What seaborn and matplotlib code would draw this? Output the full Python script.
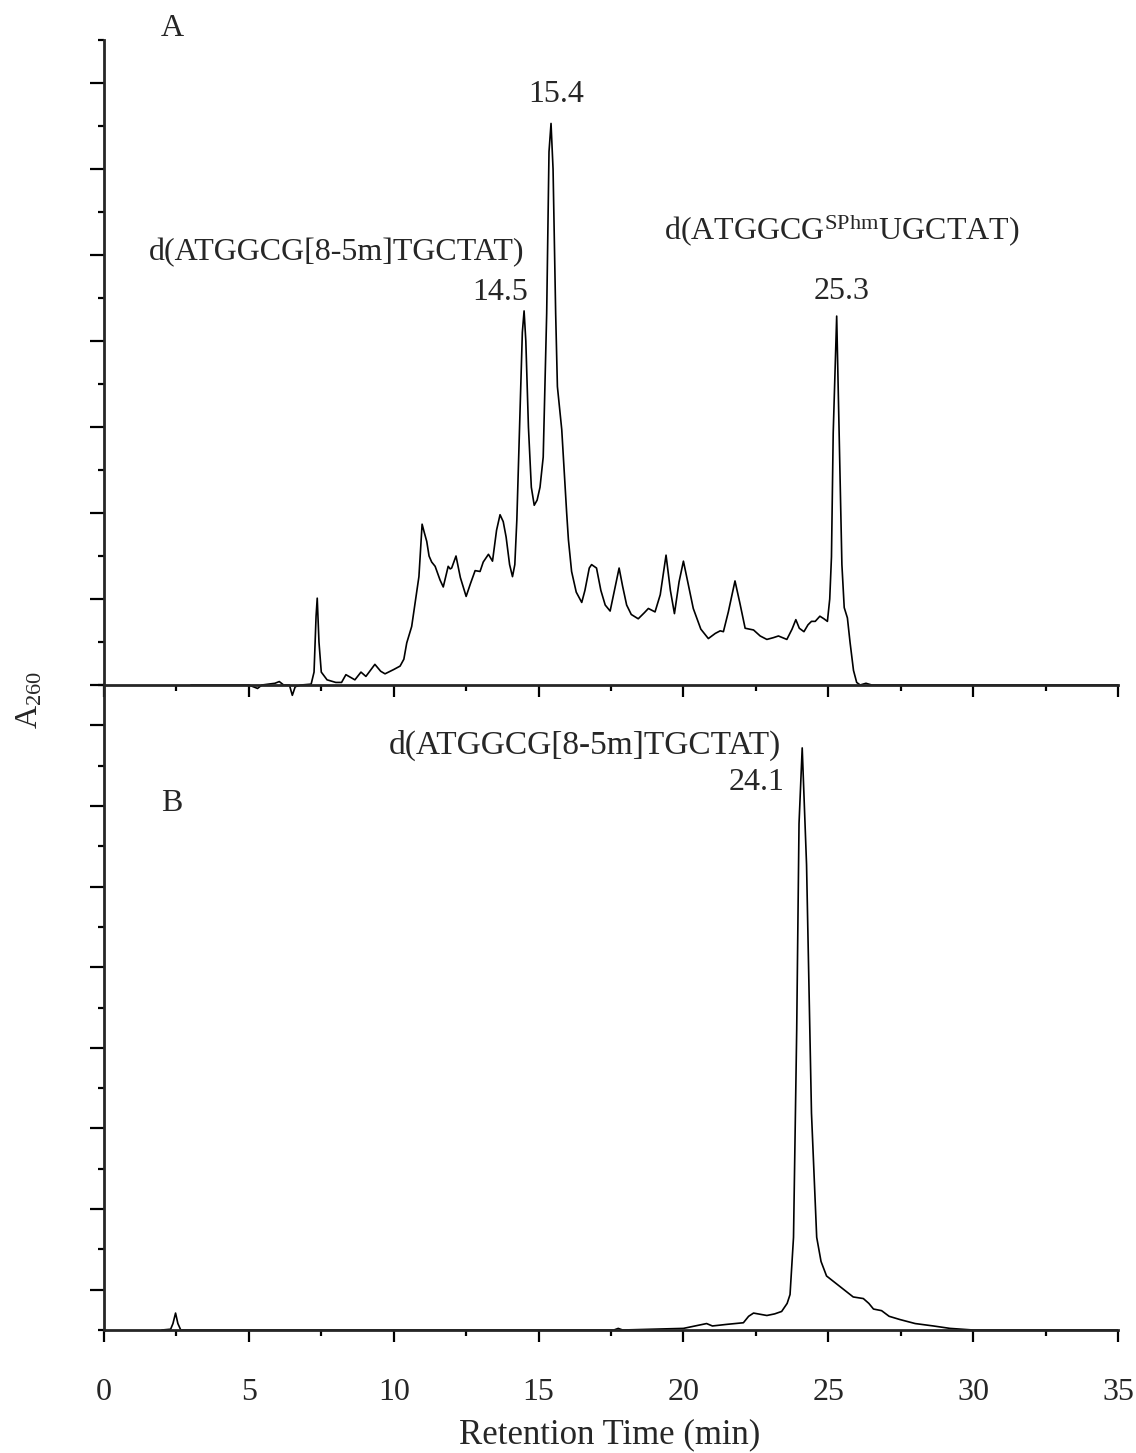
import numpy as np
import pandas as pd
import seaborn as sns
import matplotlib
matplotlib.use("Agg")
import matplotlib.pyplot as plt
from matplotlib.ticker import MultipleLocator, FixedLocator

# chromatogram A (crude mixture)
time_a = [3.0, 5.0, 5.3, 5.45, 5.9, 6.05, 6.2, 6.4, 6.5, 6.6, 6.8, 7.15, 7.25, 7.32, 7.36,
          7.42, 7.5, 7.7, 8.0, 8.2, 8.35, 8.66, 8.87, 9.04, 9.35, 9.55, 9.7, 10.0, 10.22,
          10.35, 10.45, 10.62, 10.79, 10.87, 10.98, 11.05, 11.14, 11.22, 11.31, 11.43, 11.6,
          11.71, 11.88, 11.95, 12.0, 12.15, 12.3, 12.5, 12.65, 12.81, 12.98, 13.09, 13.27,
          13.41, 13.55, 13.67, 13.78, 13.88, 14.0, 14.1, 14.18, 14.25, 14.36, 14.44, 14.5,
          14.56, 14.65, 14.75, 14.85, 14.95, 15.05, 15.16, 15.28, 15.36, 15.43, 15.5, 15.59,
          15.65, 15.8, 15.9, 15.97, 16.03, 16.14, 16.3, 16.49, 16.6, 16.75, 16.83, 17.0,
          17.15, 17.3, 17.47, 17.62, 17.78, 17.9, 18.04, 18.2, 18.44, 18.65, 18.79, 19.02,
          19.2, 19.4, 19.55, 19.69, 19.85, 20.0, 20.15, 20.34, 20.6, 20.86, 21.1, 21.27,
          21.38, 21.55, 21.78, 21.95, 22.13, 22.42, 22.65, 22.88, 23.1, 23.28, 23.57, 23.75,
          23.88, 24.0, 24.16, 24.3, 24.42, 24.55, 24.71, 24.85, 24.97, 25.05, 25.11, 25.17,
          25.29, 25.4, 25.47, 25.55, 25.66, 25.75, 25.87, 25.98, 26.1, 26.3, 26.5, 35.0]
abs_a = [0.0, 0.0, -0.04, 0.0, 0.02, 0.04, 0.0, 0.0, -0.12, -0.02, 0.0, 0.01, 0.15, 0.8, 1.01,
         0.5, 0.15, 0.06, 0.03, 0.03, 0.12, 0.06, 0.15, 0.10, 0.24, 0.16, 0.13, 0.18, 0.22,
         0.3, 0.49, 0.68, 1.07, 1.26, 1.87, 1.78, 1.67, 1.5, 1.43, 1.38, 1.22,
         1.14, 1.38, 1.35, 1.36, 1.5, 1.25, 1.03, 1.18, 1.33, 1.32, 1.43, 1.52,
         1.44, 1.8, 1.98, 1.9, 1.72, 1.4, 1.26, 1.4, 1.92, 3.16, 4.1, 4.35,
         4.0, 3.0, 2.3, 2.09, 2.15, 2.3, 2.65, 4.32, 6.2, 6.53, 6.0, 4.32,
         3.47, 2.97, 2.4, 2.0, 1.69, 1.32, 1.08, 0.96, 1.1, 1.36, 1.4, 1.36,
         1.1, 0.93, 0.86, 1.1, 1.36, 1.15, 0.93, 0.82, 0.77, 0.84, 0.89, 0.85,
         1.05, 1.51, 1.1, 0.83, 1.2, 1.44, 1.2, 0.89, 0.65, 0.54, 0.6, 0.63,
         0.62, 0.85, 1.21, 0.95, 0.66, 0.64, 0.57, 0.53, 0.55, 0.57, 0.53, 0.65,
         0.76, 0.66, 0.62, 0.7, 0.74, 0.74, 0.8, 0.77, 0.74, 1.0, 1.49, 2.93,
         4.29, 2.54, 1.4, 0.9, 0.78, 0.5, 0.17, 0.03, 0.0, 0.02, 0.0, 0.0]

# chromatogram B (purified product)
time_b = [2.0, 2.3, 2.38, 2.47, 2.55, 2.65, 17.6, 17.75, 17.9, 20.0, 20.8, 21.0, 21.5, 22.07,
          22.25, 22.42, 22.88, 23.15, 23.39, 23.58, 23.68, 23.8, 23.91, 23.99, 24.1, 24.25,
          24.42, 24.6, 24.75, 24.94, 25.4, 25.86, 26.21, 26.4, 26.56, 26.84, 27.1, 27.47,
          28.0, 28.63, 29.2, 30.0, 35.0]
abs_b = [0.0, 0.01, 0.08, 0.21, 0.08, 0.0, 0.0, 0.02, 0.0, 0.02, 0.08, 0.05, 0.07, 0.09,
         0.17, 0.21, 0.18, 0.2, 0.23, 0.33, 0.44, 1.15, 3.72, 6.28, 7.22, 5.77,
         2.69, 1.15, 0.85, 0.67, 0.54, 0.41, 0.39, 0.33, 0.26, 0.24, 0.17, 0.13,
         0.08, 0.05, 0.02, 0.0, 0.0]

x_ticks = [0, 5, 10, 15, 20, 25, 30, 35]

sns.set_style("ticks")
plt.rcParams['font.family'] = ['Liberation Serif', 'DejaVu Serif']
plt.rcParams['mathtext.fontset'] = 'custom'
plt.rcParams['mathtext.rm'] = 'Liberation Serif'
plt.rcParams['mathtext.it'] = 'Liberation Serif:italic'

fs = 23

df_a = pd.DataFrame({'time': time_a, 'abs': abs_a})
df_b = pd.DataFrame({'time': time_b, 'abs': abs_b})

fig = plt.figure(figsize=(11.36, 14.53), dpi=100)
axA = fig.add_axes([0.09155, 0.52856, 0.8926, 0.4439])
axB = fig.add_axes([0.09155, 0.08465, 0.8926, 0.4439])

sns.lineplot(data=df_a, x='time', y='abs', ax=axA, color='black', linewidth=1.2,
             sort=False, errorbar=None)
sns.lineplot(data=df_b, x='time', y='abs', ax=axB, color='black', linewidth=1.2,
             sort=False, errorbar=None)
axA.lines[0].set_clip_on(False)

for ax in (axA, axB):
    sns.despine(ax=ax)
    ax.set_xlim(0, 35)
    ax.set_xlabel('')
    ax.set_ylabel('')
    ax.spines['left'].set_linewidth(2.0)
    ax.spines['bottom'].set_linewidth(2.0)
    ax.xaxis.set_major_locator(FixedLocator(x_ticks))
    ax.xaxis.set_minor_locator(MultipleLocator(2.5))
    ax.tick_params(axis='both', which='major', direction='out', width=1.6, color='black')
    ax.tick_params(axis='both', which='minor', direction='out', width=1.6, color='black')
    ax.tick_params(axis='x', which='major', length=8.5)
    ax.tick_params(axis='x', which='minor', length=4.3)
    ax.tick_params(axis='y', which='major', length=10, labelleft=False)
    ax.tick_params(axis='y', which='minor', length=4.5)
    ax.patch.set_alpha(0)

axA.set_ylim(0, 7.5)
axA.yaxis.set_major_locator(MultipleLocator(1))
axA.yaxis.set_minor_locator(MultipleLocator(0.5))
axA.tick_params(axis='x', labelbottom=False)

axB.set_ylim(0, 8)
axB.yaxis.set_major_locator(FixedLocator(np.arange(0.5, 8, 1)))
axB.yaxis.set_minor_locator(FixedLocator(np.arange(0, 9, 1)))
axB.set_xticklabels([str(t) for t in x_ticks], fontsize=fs)
axB.tick_params(axis='x', which='major', pad=26)

# annotations panel A
axA.text(2.35, 7.55, 'A', fontsize=fs, ha='center', va='baseline')
axA.text(15.6, 6.78, '15.4', fontsize=fs, ha='center', va='baseline')
axA.text(8.04, 4.94, 'd(ATGGCG[8-5m]TGCTAT)', fontsize=fs, ha='center', va='baseline')
axA.text(13.69, 4.48, '14.5', fontsize=fs, ha='center', va='baseline')
axA.text(25.48, 5.17, r'd(ATGGCG$^{\mathrm{SPhm}}$UGCTAT)', fontsize=fs, ha='center',
         va='baseline')
axA.text(25.46, 4.49, '25.3', fontsize=fs, ha='center', va='baseline')

# annotations panel B
axB.text(2.35, 6.44, 'B', fontsize=fs, ha='center', va='baseline')
axB.text(16.6, 7.15, 'd(ATGGCG[8-5m]TGCTAT)', fontsize=fs + 1, ha='center', va='baseline')
axB.text(22.52, 6.7, '24.1', fontsize=fs, ha='center', va='baseline')

fig.text(610 / 1136, 1 - 1435 / 1453, 'Retention Time (min)', fontsize=fs + 2, ha='center',
         va='center')
fig.text(30 / 1136, 1 - 700 / 1453, r'A$_{\mathrm{260}}$', fontsize=fs, ha='center',
         va='center', rotation=90)

fig.savefig('out.png', dpi=100)
